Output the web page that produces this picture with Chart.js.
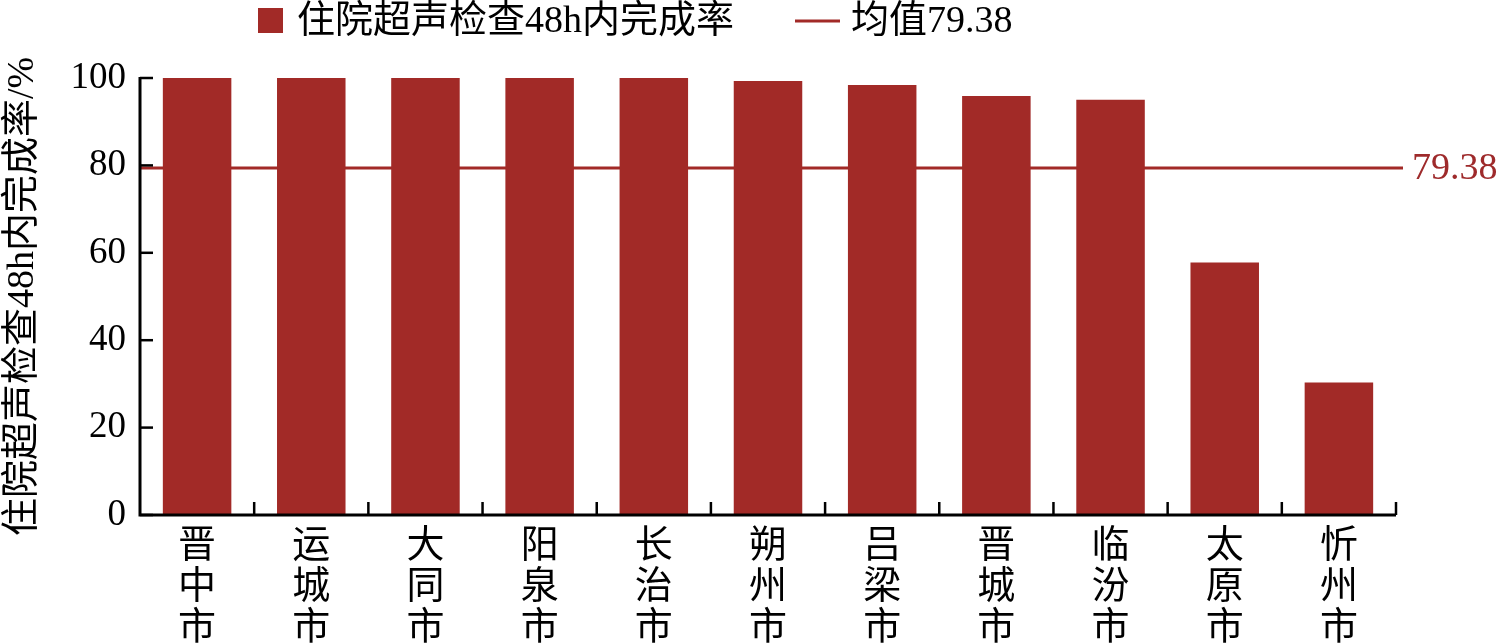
<!DOCTYPE html>
<html>
<head>
<meta charset="utf-8">
<script src="https://cdn.jsdelivr.net/npm/chart.js@4/dist/chart.umd.min.js"></script>
<style>
  html, body { margin: 0; padding: 0; background: #fff; }
  #wrap { width: 1500px; height: 644px; }
</style>
</head>
<body>
<div id="wrap"><canvas id="myChart" width="1500" height="644"></canvas></div>
<script>
// 数据
const cities = ['晋中市', '运城市', '大同市', '阳泉市', '长治市', '朔州市', '吕梁市', '晋城市', '临汾市', '太原市', '忻州市'];
const rates = [100, 100, 100, 100, 100, 99.3, 98.4, 95.9, 95.0, 57.8, 30.3];
const meanValue = 79.38;
const yTicks = [0, 20, 40, 60, 80, 100];
const seriesName = '住院超声检查48h内完成率';
const meanName = '均值79.38';
const yTitle = '住院超声检查48h内完成率/%';

const barColor = '#A22A27';
const fontStack = '"Liberation Serif", "Noto Sans CJK SC", serif';

// 均值线（画在柱子后面）
const meanLinePlugin = {
    id: 'meanLine',
    beforeDatasetsDraw(chart) {
        const ctx = chart.ctx;
        const area = chart.chartArea;
        const y = chart.scales.y.getPixelForValue(meanValue);
        ctx.save();
        ctx.strokeStyle = barColor;
        ctx.lineWidth = 3;
        ctx.beginPath();
        ctx.moveTo(area.left, y);
        ctx.lineTo(area.right + 7, y);
        ctx.stroke();
        ctx.fillStyle = '#9E2A2B';
        ctx.font = '38px ' + fontStack;
        ctx.textAlign = 'left';
        ctx.textBaseline = 'middle';
        ctx.fillText(meanValue.toFixed(2), area.right + 16, y + 1);
        ctx.restore();
    }
};

// 坐标轴和向内的刻度
const axesPlugin = {
    id: 'axesInward',
    afterDatasetsDraw(chart) {
        const ctx = chart.ctx;
        const area = chart.chartArea;
        const xs = chart.scales.x;
        const ys = chart.scales.y;
        ctx.save();
        ctx.strokeStyle = '#000';
        ctx.lineWidth = 3;
        ctx.beginPath();
        ctx.moveTo(area.left, area.top - 1);
        ctx.lineTo(area.left, area.bottom);
        ctx.lineTo(area.right, area.bottom);
        ctx.stroke();
        // y 刻度
        ctx.lineWidth = 2.5;
        yTicks.forEach(v => {
            const y = ys.getPixelForValue(v);
            ctx.beginPath();
            ctx.moveTo(area.left, y);
            ctx.lineTo(area.left + 13, y);
            ctx.stroke();
        });
        // x 刻度（类别分界处）
        const step = xs.getPixelForValue(1) - xs.getPixelForValue(0);
        for (let i = 0; i < cities.length; i++) {
            const x = xs.getPixelForValue(i) + step / 2;
            ctx.beginPath();
            ctx.moveTo(x, area.bottom);
            ctx.lineTo(x, area.bottom - 13);
            ctx.stroke();
        }
        ctx.restore();
    }
};

// 图例
const legendPlugin = {
    id: 'topLegend',
    afterDraw(chart) {
        const ctx = chart.ctx;
        ctx.save();
        ctx.fillStyle = barColor;
        ctx.fillRect(258, 8, 25, 25);
        ctx.fillStyle = '#000';
        ctx.font = '38px ' + fontStack;
        ctx.textAlign = 'left';
        ctx.textBaseline = 'middle';
        ctx.fillText(seriesName, 297, 22);
        ctx.strokeStyle = barColor;
        ctx.lineWidth = 3;
        ctx.beginPath();
        ctx.moveTo(795, 21);
        ctx.lineTo(840, 21);
        ctx.stroke();
        ctx.fillText(meanName, 851, 22);
        ctx.restore();
    }
};

const ctx = document.getElementById('myChart').getContext('2d');
const myChart = new Chart(ctx, {
    type: 'bar',
    data: {
        labels: cities.map(c => c.split('')),
        datasets: [{
            label: seriesName,
            data: rates,
            backgroundColor: barColor,
            borderWidth: 0,
            categoryPercentage: 1,
            barPercentage: 0.6
        }]
    },
    options: {
        responsive: false,
        animation: false,
        events: [],
        layout: { padding: { left: 0, top: 78, right: 104, bottom: 0 } },
        plugins: {
            legend: { display: false },
            tooltip: { enabled: false }
        },
        scales: {
            x: {
                grid: { display: false, drawTicks: false },
                border: { display: false },
                ticks: {
                    color: '#000',
                    font: { family: fontStack, size: 38, lineHeight: 1.08 },
                    padding: 11,
                    maxRotation: 0,
                    autoSkip: false
                },
                afterFit(scale) { scale.height = 129; }
            },
            y: {
                min: 0,
                max: 100,
                grid: { display: false, drawTicks: false },
                border: { display: false },
                ticks: {
                    stepSize: 20,
                    color: '#000',
                    font: { family: fontStack, size: 37 },
                    padding: 14
                },
                title: {
                    display: true,
                    text: yTitle,
                    color: '#000',
                    font: { family: fontStack, size: 38 },
                    padding: { top: 0, bottom: 0 }
                },
                afterFit(scale) { scale.width = 140; }
            }
        }
    },
    plugins: [meanLinePlugin, axesPlugin, legendPlugin]
});
</script>
</body>
</html>
